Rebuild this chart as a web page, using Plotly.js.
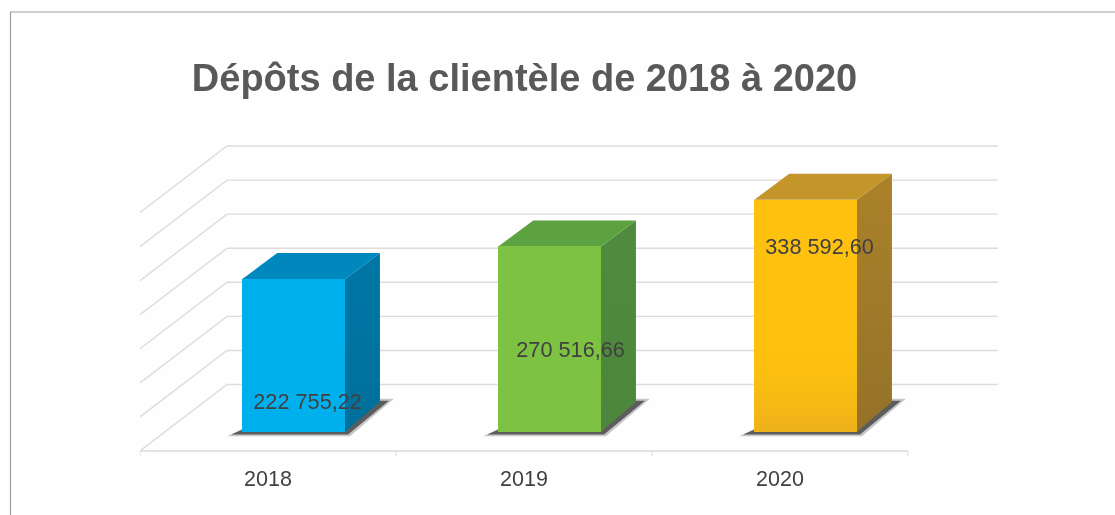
<!DOCTYPE html>
<html>
<head>
<meta charset="utf-8">
<script src="https://cdn.plot.ly/plotly-3.0.1.min.js"></script>
<style>html,body{margin:0;padding:0;background:#fff}#chart{width:1115px;height:515px;filter:blur(0.5px)}</style>
</head>
<body>
<div id="chart"></div>
<script>
// ---- data ----
const years = ["2018", "2019", "2020"];
const deposits = [222755.22, 270516.66, 338592.60];
const valueLabels = ["222 755,22", "270 516,66", "338 592,60"];
const gridValues = [0, 50000, 100000, 150000, 200000, 250000, 300000, 350000];
const chartTitle = "Dépôts de la clientèle de 2018 à 2020";

// ---- styles ----
const frontColors = ["#00B0EC", "#7DC242", "#FEC10F"];
const topColors = ["#0087BE", "#5CA240", "#C4962A"];
const sideTop = ["#0077A6", "#4F8B3E", "#AB822A"];
const sideBottom = ["#00709C", "#4D863C", "#957229"];
const labelFractions = [0.187, 0.435, 0.79];   // where each label sits along its bar
const labelShiftPx = [14, 21, 14];             // horizontal shift of each label from its bar centre

// ---- scene geometry (pixel sizes converted to axis units) ----
const PX_X = 256, PX_Y = 0.000685;             // px per category, px per unit
const dxOf = px => px / PX_X, dyOf = px => px / PX_Y;
const BAR_OFFSET = dxOf(25.6), BAR_W = dxOf(102.7);
const DEPTH_X = dxOf(35), DEPTH_TOP = dyOf(26), DEPTH_BASE = dyOf(30);
const WALL_DX = dxOf(87), WALL_DY = dyOf(66.5), WALL_BACK = dyOf(47.2);
const X0 = -0.5, X_AXIS_END = 2.5, X_WALL_END = X0 + dxOf(858);
const FLOOR_Y = WALL_BACK - WALL_DY;
const Y_GRID_STEP = 34.07 / 34.25;             // back wall is slightly compressed

const traces = [];
const poly = (x, y, extra) => Object.assign({
  type: "scatter", mode: "lines", x, y, fill: "toself",
  line: {width: 0}, hoverinfo: "skip", showlegend: false
}, extra);

// perspective grid: left wall diagonal + back wall horizontal
gridValues.forEach((v, i) => {
  const yBack = WALL_BACK + v * Y_GRID_STEP;
  traces.push({
    type: "scatter", mode: "lines", zorder: 0, hoverinfo: "skip", showlegend: false,
    x: [X0, X0 + WALL_DX, X_WALL_END],
    y: [yBack - WALL_DY, yBack, yBack],
    line: {color: "#DEDBD8", width: 1.4}
  });
});

// front axis line with ticks at category boundaries
const axisX = [X0, X_AXIS_END], axisY = [FLOOR_Y, FLOOR_Y];
traces.push({type: "scatter", mode: "lines", zorder: 0, hoverinfo: "skip", showlegend: false,
  x: axisX, y: axisY, line: {color: "#DCDAD8", width: 1.4}});
const tickX = [], tickY = [];
[0, 1, 2, 3].forEach(k => { tickX.push(X0 + k, X0 + k, null); tickY.push(FLOOR_Y, FLOOR_Y - dyOf(5), null); });
traces.push({type: "scatter", mode: "lines", zorder: 0, hoverinfo: "skip", showlegend: false,
  x: tickX, y: tickY, line: {color: "#DCDAD8", width: 1}});

// bars: shadow, side and top faces are derived from each value
const centers = years.map((_, i) => i + BAR_OFFSET);
deposits.forEach((v, i) => {
  const L = centers[i] - BAR_W / 2, R = centers[i] + BAR_W / 2;
  const sx = [L - dxOf(15), R + dxOf(5), R + dxOf(49), R + dxOf(30), L];
  const sy = [dyOf(-4.5), dyOf(-4.5), dyOf(33), dyOf(33), dyOf(3)];
  traces.push(poly(sx, sy, {zorder: 1, fillcolor: "rgba(70,70,70,0.3)"}));
  const sx2 = [L - dxOf(11), R + dxOf(3), R + dxOf(44), R + dxOf(30), L];
  const sy2 = [dyOf(-2.8), dyOf(-2.8), dyOf(31), dyOf(31), dyOf(2)];
  traces.push(poly(sx2, sy2, {zorder: 1, fillcolor: "rgba(65,65,65,0.8)"}));
  // side face
  traces.push(poly([R, R + DEPTH_X, R + DEPTH_X, R], [v, v + DEPTH_TOP, DEPTH_BASE, 0], {
    zorder: 2, fillcolor: sideTop[i],
    fillgradient: {type: "vertical", colorscale: [[0, sideBottom[i]], [1, sideTop[i]]]}
  }));
  // top face
  traces.push(poly([L, R, R + DEPTH_X, L + DEPTH_X], [v, v, v + DEPTH_TOP, v + DEPTH_TOP], {
    zorder: 2, fillcolor: topColors[i]
  }));
});

// front faces: the actual bars
traces.push({
  type: "bar", x: centers, y: deposits, width: BAR_W, zorder: 3,
  marker: {color: frontColors, line: {width: 0}},
  hoverinfo: "x+y", showlegend: false
});

// foot shading of the gold bar
traces.push(poly(
  [centers[2] - BAR_W / 2, centers[2] + BAR_W / 2, centers[2] + BAR_W / 2, centers[2] - BAR_W / 2],
  [0, 0, deposits[2] * 0.4, deposits[2] * 0.4],
  {zorder: 4, fillcolor: "rgba(0,0,0,0)",
   fillgradient: {type: "vertical", colorscale: [[0, "rgba(232,172,30,0.8)"], [1, "rgba(254,193,15,0)"]]}}
));

// value labels
traces.push({
  type: "scatter", mode: "text", zorder: 5, hoverinfo: "skip", showlegend: false,
  x: centers.map((c, i) => c + dxOf(labelShiftPx[i])),
  y: deposits.map((v, i) => v * labelFractions[i]),
  text: valueLabels, textposition: "middle center",
  textfont: {family: "Liberation Sans, Arial, sans-serif", size: 21.7, color: "#404040"},
  cliponaxis: false
});

const M = {l: 140, r: 117, t: 140, b: 57};
const W = 1115, H = 515, PW = W - M.l - M.r, PH = H - M.t - M.b;
const frameX = px => (px - M.l) / PW, frameY = py => 1 - (py - M.t) / PH;

const layout = {
  width: W, height: H, margin: M,
  paper_bgcolor: "#FEFEFE", plot_bgcolor: "rgba(0,0,0,0)",
  showlegend: false, bargap: 0,
  title: {
    text: chartTitle, xref: "container", yref: "container",
    x: 524.5 / W, xanchor: "center", y: 1 - 78 / H, yanchor: "middle",
    font: {family: "Liberation Sans, Arial, sans-serif", size: 38, color: "#595959", weight: 700}
  },
  xaxis: {
    type: "linear", range: [X0, X_WALL_END], tickmode: "array",
    tickvals: years.map((_, i) => i), ticktext: years,
    showgrid: false, zeroline: false, showline: false, ticks: "", ticklabelstandoff: 5,
    tickfont: {family: "Liberation Sans, Arial, sans-serif", size: 21.5, color: "#404040"}
  },
  yaxis: {
    type: "linear", range: [dyOf(431.7 - (H - M.b)), dyOf(431.7 - M.t)],
    showgrid: false, zeroline: false, showline: false, showticklabels: false, ticks: ""
  },
  shapes: [
    {type: "line", xref: "paper", yref: "paper", x0: frameX(10), x1: frameX(1115), y0: frameY(12), y1: frameY(12),
     line: {color: "#9E9E9E", width: 1.2}},
    {type: "line", xref: "paper", yref: "paper", x0: frameX(10.5), x1: frameX(10.5), y0: frameY(12), y1: frameY(515),
     line: {color: "#9E9E9E", width: 1.2}}
  ]
};
Plotly.newPlot("chart", traces, layout, {displayModeBar: false, staticPlot: true});
</script>
</body>
</html>
